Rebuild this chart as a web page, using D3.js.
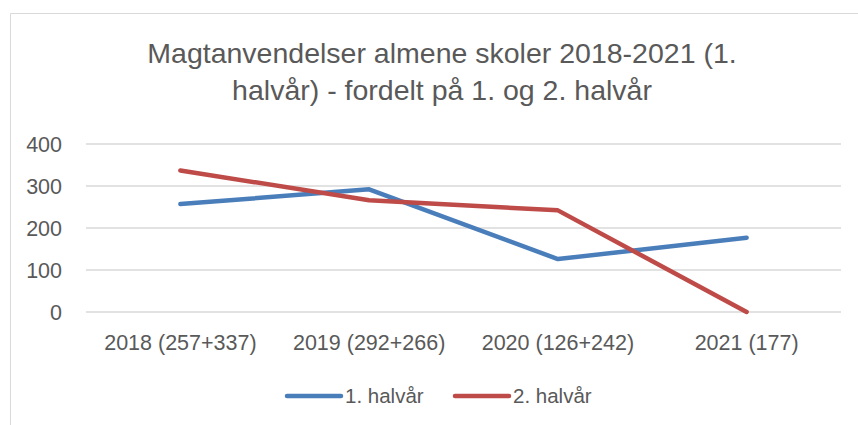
<!DOCTYPE html>
<html lang="da">
<head>
<meta charset="UTF-8">
<title>Magtanvendelser almene skoler</title>
<script src="https://d3js.org/d3.v7.min.js"></script>
<style>
  body { margin: 0; background: #fff; }
  text { font-family: "Liberation Sans", Arial, sans-serif; fill: #595959; }
</style>
</head>
<body>
<svg id="chart" width="858" height="425"></svg>
<script>
// data
const categories = ["2018 (257+337)", "2019 (292+266)", "2020 (126+242)", "2021 (177)"];
const halvaar1 = [257, 292, 126, 177];
const halvaar2 = [337, 266, 242, 0];
const seriesNames = ["1. halvår", "2. halvår"];
const seriesColors = ["#4a7ebb", "#be4b48"];
const yTicks = [0, 100, 200, 300, 400];
const titleLines = ["Magtanvendelser almene skoler 2018-2021 (1.", "halvår) - fordelt på 1. og 2. halvår"];

const svg = d3.select("#chart");
const margin = {top: 144, right: 17, bottom: 113, left: 86};
const width = 858 - margin.left - margin.right;
const height = 425 - margin.top - margin.bottom;

// chart frame
svg.append("path")
   .attr("d", "M10.5,425 V13.5 H858")
   .attr("fill", "none")
   .attr("stroke", "#d9d9d9")
   .attr("stroke-width", 1);

// title
svg.append("g").selectAll("text")
   .data(titleLines)
   .join("text")
   .attr("x", 442)
   .attr("y", (d, i) => 63 + i * 37)
   .attr("text-anchor", "middle")
   .style("font-size", "28.5px")
   .text(d => d);

const g = svg.append("g").attr("transform", `translate(${margin.left},${margin.top})`);

const x = d3.scaleBand().domain(categories).range([0, width]);
const y = d3.scaleLinear().domain([0, 400]).range([height, 0]);

// gridlines
g.append("g")
 .selectAll("line")
 .data(yTicks)
 .join("line")
 .attr("x1", 0).attr("x2", width)
 .attr("y1", d => y(d)).attr("y2", d => y(d))
 .attr("stroke", "#d9d9d9")
 .attr("stroke-width", 1.3);

// y axis labels
const yAxis = g.append("g")
  .attr("transform", "translate(-24,0)")
  .call(d3.axisLeft(y).tickValues(yTicks).tickSize(0).tickPadding(0));
yAxis.select(".domain").remove();
yAxis.selectAll("text").style("font-size", "21.5px").attr("fill", "#595959").attr("dy", "0.35em");

// x axis labels
const xAxis = g.append("g")
  .attr("transform", `translate(0,${height})`)
  .call(d3.axisBottom(x).tickSize(0).tickPadding(23));
xAxis.select(".domain").remove();
xAxis.selectAll("text").style("font-size", "21.5px").attr("fill", "#595959");

// lines
const line = d3.line()
  .x((d, i) => x(categories[i]) + x.bandwidth() / 2)
  .y(d => y(d));

[halvaar1, halvaar2].forEach((vals, k) => {
  g.append("path")
   .datum(vals)
   .attr("fill", "none")
   .attr("stroke", seriesColors[k])
   .attr("stroke-width", 4.5)
   .attr("stroke-linecap", "round")
   .attr("stroke-linejoin", "round")
   .attr("d", line);
});

// legend
const legend = svg.append("g").attr("transform", "translate(287,396)");
const legendX = [0, 168];
seriesNames.forEach((name, k) => {
  const item = legend.append("g").attr("transform", `translate(${legendX[k]},0)`);
  item.append("line")
      .attr("x1", 0).attr("x2", 54)
      .attr("stroke", seriesColors[k])
      .attr("stroke-width", 4.5)
      .attr("stroke-linecap", "round");
  item.append("text")
      .attr("x", 58)
      .attr("dy", "0.35em")
      .style("font-size", "20.5px")
      .text(name);
});
</script>
</body>
</html>
